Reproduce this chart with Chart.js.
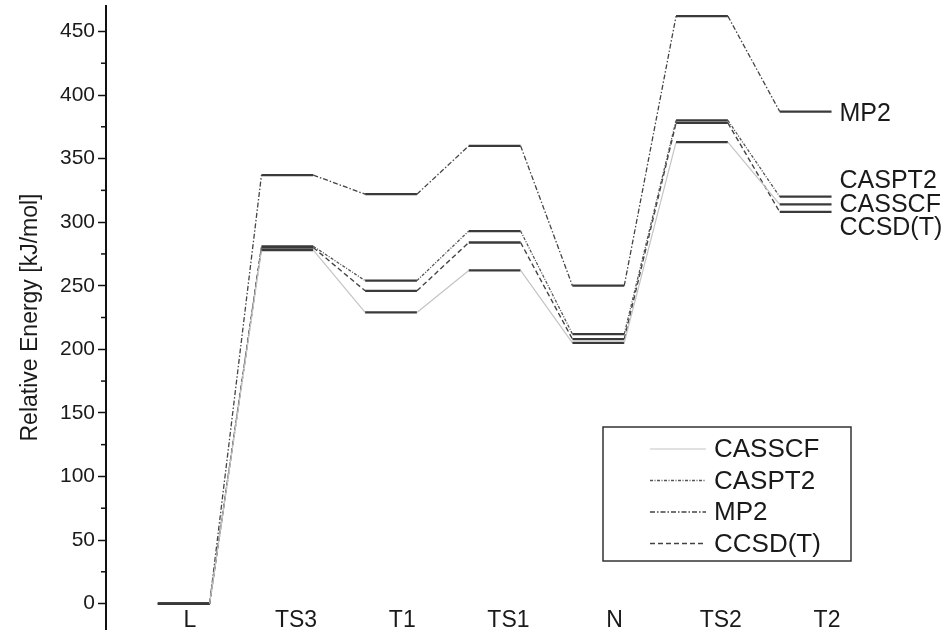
<!DOCTYPE html>
<html><head><meta charset="utf-8">
<script src="https://cdn.jsdelivr.net/npm/chart.js@4.4.1/dist/chart.umd.min.js"></script>
<style>html,body{margin:0;padding:0;background:#fff}#wrap{width:947px;height:634px}</style>
</head><body><div id="wrap"><canvas id="c"></canvas></div>
<script>
// ---- data ----
const states = ['L', 'TS3', 'T1', 'TS1', 'N', 'TS2', 'T2'];
const methods = ['CASSCF', 'CASPT2', 'MP2', 'CCSD(T)'];
const casscf = [0, 278, 229, 262, 205, 363, 314];
const caspt2 = [0, 281, 254, 293, 212, 380, 320];
const mp2    = [0, 337, 322, 360, 250, 462, 387];
const ccsdt  = [0, 280, 246, 284, 208, 378, 308];
const yMajorTicks = [0, 50, 100, 150, 200, 250, 300, 350, 400, 450];
const yMinorTicks = [25, 75, 125, 175, 225, 275, 325, 375, 425];

// ---- styling (not data) ----
const seriesValues = [casscf, caspt2, mp2, ccsdt];
const styles = [
  {color: '#c4c4c4', width: 1.2, dash: []},
  {color: '#555555', width: 1.3, dash: [3, 1.5, 1, 1.5]},
  {color: '#444444', width: 1.3, dash: [5, 2, 1.5, 2]},
  {color: '#444444', width: 1.4, dash: [5, 3]}
];
const sideLabelAt = {'MP2': 385, 'CASPT2': 332, 'CASSCF': 313.5, 'CCSD(T)': 295.5};
const LEVEL_HALF = 0.25;
const LEVEL_COLOR = '#3a3a3a';
const FONT = "'Liberation Sans', Arial, sans-serif";

const datasets = methods.map((m, k) => {
  const pts = [];
  seriesValues[k].forEach((v, i) => {
    pts.push({x: i - LEVEL_HALF, y: v});
    pts.push({x: i + LEVEL_HALF, y: v});
  });
  const st = styles[k];
  return {
    label: m,
    data: pts,
    borderColor: st.color,
    borderWidth: st.width,
    borderDash: st.dash,
    pointRadius: 0,
    fill: false,
    tension: 0,
    segment: {
      borderColor: c => c.p0DataIndex % 2 === 0 ? LEVEL_COLOR : st.color,
      borderDash: c => c.p0DataIndex % 2 === 0 ? [] : st.dash,
      borderWidth: c => c.p0DataIndex % 2 === 0 ? 2.3 : st.width
    }
  };
});

const decorPlugin = {
  id: 'decor',
  afterDraw(chart) {
    const ctx = chart.ctx;
    const ys = chart.scales.y, xs = chart.scales.x;
    ctx.save();
    // minor ticks
    ctx.strokeStyle = '#111'; ctx.lineWidth = 1.5;
    yMinorTicks.forEach(v => {
      const py = ys.getPixelForValue(v);
      ctx.beginPath(); ctx.moveTo(ys.right - 5, py); ctx.lineTo(ys.right, py); ctx.stroke();
    });
    // side labels
    ctx.fillStyle = '#1a1a1a';
    ctx.font = '25px ' + FONT;
    ctx.textBaseline = 'middle'; ctx.textAlign = 'left';
    const xEnd = xs.getPixelForValue(states.length - 1 + LEVEL_HALF) + 8;
    Object.keys(sideLabelAt).forEach(name => {
      ctx.fillText(name, xEnd, ys.getPixelForValue(sideLabelAt[name]));
    });
    // legend box
    const bx = 603, by = 427, bw = 248, bh = 134;
    ctx.strokeStyle = '#333'; ctx.lineWidth = 1.5;
    ctx.strokeRect(bx, by, bw, bh);
    ctx.font = '26px ' + FONT;
    chart.data.datasets.forEach((ds, k) => {
      const cy = by + 22 + k * 31.5;
      ctx.beginPath();
      ctx.strokeStyle = styles[k].color;
      ctx.lineWidth = styles[k].width;
      ctx.setLineDash(styles[k].dash);
      ctx.moveTo(bx + 47, cy); ctx.lineTo(bx + 103, cy); ctx.stroke();
      ctx.setLineDash([]);
      ctx.fillStyle = '#1a1a1a';
      ctx.fillText(ds.label, bx + 111, cy + 1);
    });
    ctx.restore();
  }
};

new Chart(document.getElementById('c'), {
  type: 'line',
  data: {datasets},
  options: {
    responsive: true,
    maintainAspectRatio: false,
    animation: false,
    layout: {padding: {top: 6, right: 17, bottom: 5, left: 0}},
    plugins: {legend: {display: false}, tooltip: {enabled: false}},
    scales: {
      x: {
        type: 'linear', min: -0.75, max: 7.2,
        position: {y: 0},
        display: false
      },
      xl: {
        type: 'linear', axis: 'x', min: -0.79, max: 6.97,
        position: {y: 0},
        grid: {display: false, drawTicks: false},
        border: {display: false},
        afterBuildTicks: s => { s.ticks = states.map((_, i) => ({value: i})); },
        afterFit: s => { s.paddingLeft = 0; s.paddingRight = 0; },
        ticks: {
          padding: 3,
          color: '#1a1a1a',
          font: {family: FONT, size: 23},
          callback: v => states[v]
        }
      },
      y: {
        type: 'linear', min: -20, max: 470,
        afterFit: s => { s.width = 106; s.paddingTop = 0; s.paddingBottom = 0; },
        afterBuildTicks: s => { s.ticks = yMajorTicks.map(v => ({value: v})); },
        border: {display: true, color: '#111', width: 2},
        grid: {drawOnChartArea: false, drawTicks: true, tickLength: 8, tickColor: '#111', tickWidth: 1.5},
        ticks: {padding: 3, color: '#1a1a1a', font: {family: FONT, size: 21}},
        title: {display: true, text: 'Relative Energy [kJ/mol]', color: '#1a1a1a',
                font: {family: FONT, size: 23}, padding: {top: 17, bottom: 0}}
      }
    }
  },
  plugins: [decorPlugin]
});
</script></body></html>
